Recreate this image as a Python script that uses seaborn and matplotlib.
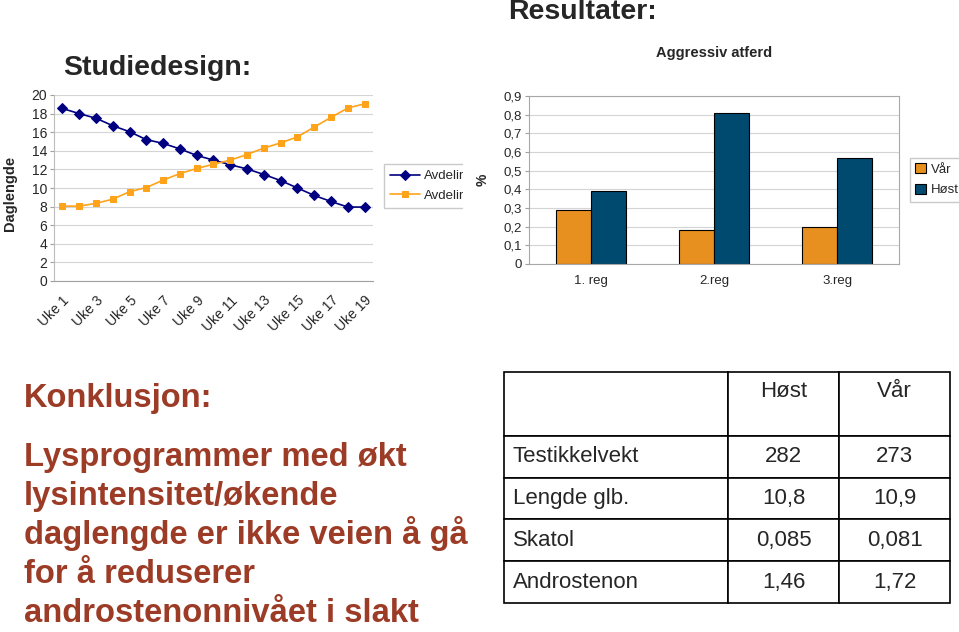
import pandas as pd
import matplotlib
matplotlib.use("Agg")
import matplotlib.pyplot as plt
import seaborn as sns
from matplotlib.ticker import FuncFormatter, FixedLocator
from matplotlib.transforms import Bbox, TransformedBbox, ScaledTranslation

# data
weeks = ["Uke %d" % i for i in range(1, 20)]
avd_blue = [18.55, 18.0, 17.5, 16.7, 16.05, 15.2, 14.8, 14.2, 13.5, 13.0,
            12.5, 12.05, 11.45, 10.8, 10.0, 9.2, 8.55, 7.95, 7.95]
avd_orange = [8.05, 8.05, 8.35, 8.8, 9.6, 10.05, 10.85, 11.55, 12.1, 12.55,
              13.0, 13.6, 14.3, 14.85, 15.5, 16.55, 17.6, 18.6, 19.05]
regs = ["1. reg", "2.reg", "3.reg"]
var_vals = [0.29, 0.18, 0.20]
host_vals = [0.39, 0.81, 0.57]
tab_rows = ["Testikkelvekt", "Lengde glb.", "Skatol", "Androstenon"]
tab_host = ["282", "10,8", "0,085", "1,46"]
tab_var = ["273", "10,9", "0,081", "1,72"]
conclusion = ["Lysprogrammer med økt", "lysintensitet/økende",
              "daglengde er ikke veien å gå", "for å reduserer",
              "androstenonnivået i slakt"]

sns.set_style("white")
plt.rcParams["font.family"] = ["Liberation Sans", "DejaVu Sans"]

W, H = 959, 632
fig = plt.figure(figsize=(W / 100, H / 100), dpi=100)


def rect(l, t, r, b):
    return [l / W, 1 - b / H, (r - l) / W, (b - t) / H]


def px(x, y):
    return x / W, 1 - y / H


# ---- line chart (Studiedesign)
ax1 = fig.add_axes(rect(54, 95, 373, 281))
pos = list(range(len(weeks)))
sns.lineplot(x=pos, y=avd_blue, ax=ax1, color="#000080", marker="D",
             markersize=5, markeredgecolor="#000080", linewidth=1.2, label="Avdelir")
sns.lineplot(x=pos, y=avd_orange, ax=ax1, color="#FFA31A", marker="s",
             markersize=5, markeredgecolor="#FFA31A", linewidth=1.2, label="Avdelir")
ax1.set_xlim(-0.5, len(weeks) - 0.5)
ax1.set_ylim(0, 20)
ax1.set_yticks(range(0, 21, 2))
ax1.yaxis.grid(True, color="#d4d4d4", linewidth=0.8)
ax1.set_xticks(pos[::2])
ax1.set_xticklabels(weeks[::2], rotation=45, ha="right", rotation_mode="anchor",
                    fontsize=10)
shift = ScaledTranslation(-6 / 100, 0, fig.dpi_scale_trans)
for t in ax1.get_xticklabels():
    t.set_transform(t.get_transform() + shift)
ax1.xaxis.set_minor_locator(FixedLocator([p - 0.5 for p in range(len(weeks) + 1)]))
ax1.tick_params(axis="x", which="major", length=0, pad=9)
ax1.tick_params(axis="x", which="minor", length=3, color="#a0a0a0", direction="out")
ax1.tick_params(axis="y", labelsize=10, length=3, color="#a0a0a0", left=True, pad=2)
for s in ["top", "right"]:
    ax1.spines[s].set_visible(False)
ax1.spines["left"].set_color("#bdbdbd")
ax1.spines["bottom"].set_color("#a0a0a0")
ax1.set_ylabel("Daglengde", fontsize=10.5, fontweight="bold")
ax1.yaxis.set_label_coords(-0.138, 0.47)
ax1.yaxis.label.set_va("center")
leg1 = ax1.legend(loc="upper left", bbox_to_anchor=px(384, 164), bbox_transform=fig.transFigure,
                  fontsize=9.5, frameon=True, fancybox=False, edgecolor="#bdbdbd",
                  handlelength=2.3, handletextpad=0.25, borderpad=0.45,
                  labelspacing=0.55, borderaxespad=0)
clip = TransformedBbox(Bbox([[0, 0], [463 / W, 1]]), fig.transFigure)
leg1.get_frame().set_clip_box(clip)
leg1.get_frame().set_clip_on(True)
for t in leg1.get_texts():
    t.set_clip_box(clip)
    t.set_clip_on(True)

# ---- bar chart (Aggressiv atferd)
ax2 = fig.add_axes(rect(529, 96, 899, 264))
bars = pd.DataFrame({
    "reg": regs * 2,
    "season": ["Vår"] * 3 + ["Høst"] * 3,
    "value": var_vals + host_vals,
})
sns.barplot(data=bars, x="reg", y="value", hue="season", hue_order=["Vår", "Høst"],
            palette={"Vår": "#E8901F", "Høst": "#004A70"}, width=0.57, saturation=1,
            edgecolor="black", linewidth=0.8, ax=ax2, legend=True)
ax2.set_ylim(0, 0.9)
ax2.set_yticks([i / 10 for i in range(10)])
ax2.yaxis.set_major_formatter(FuncFormatter(
    lambda v, p: "0" if abs(v) < 1e-9 else ("%.1f" % v).replace(".", ",")))
ax2.yaxis.grid(True, color="#d4d4d4", linewidth=0.8)
ax2.set_axisbelow(True)
ax2.xaxis.set_minor_locator(FixedLocator([-0.5, 0.5, 1.5, 2.5]))
ax2.tick_params(axis="x", which="major", length=0, labelsize=9.5, pad=8)
ax2.tick_params(axis="x", which="minor", length=3, color="#a0a0a0", direction="out")
ax2.tick_params(axis="y", labelsize=9.5, length=3, color="#a0a0a0", left=True, pad=2)
for s in ax2.spines.values():
    s.set_color("#a8a8a8")
    s.set_linewidth(0.8)
ax2.set_xlabel("")
ax2.set_ylabel("%", fontsize=10, fontweight="bold")
ax2.yaxis.set_label_coords(-0.125, 0.5)
ax2.yaxis.label.set_va("center")
ax2.set_title("Aggressiv atferd", fontsize=10.5, fontweight="bold", pad=28)
h, l = ax2.get_legend_handles_labels()
ax2.legend(h, l, loc="upper left", bbox_to_anchor=px(910, 158), bbox_transform=fig.transFigure,
           fontsize=9.5, frameon=True, fancybox=False, edgecolor="#bdbdbd",
           handlelength=0.8, handleheight=0.8, handletextpad=0.4, borderpad=0.4,
           labelspacing=0.6, borderaxespad=0)

# ---- table
ax3 = fig.add_axes(rect(504, 372, 950, 603))
ax3.axis("off")
cells = [[r, a, b] for r, a, b in zip(tab_rows, tab_host, tab_var)]
tbl = ax3.table(cellText=cells, colLabels=["", "Høst\n", "Vår\n"],
                colWidths=[224 / 446, 111 / 446, 111 / 446], bbox=[0, 0, 1, 1])
tbl.auto_set_font_size(False)
for (r, c), cell in tbl.get_celld().items():
    cell.set_linewidth(1.2)
    cell.set_edgecolor("black")
    cell.set_height(64 if r == 0 else 42)
    cell.get_text().set_fontsize(16)
    if c == 0:
        cell.get_text().set_ha("left")
        cell.PAD = 0.04
    else:
        cell.get_text().set_ha("center")

# ---- slide text
fig.text(*px(63, 75), "Studiedesign:", fontsize=20.5, fontweight="bold",
         va="baseline", ha="left")
fig.text(*px(508, 19), "Resultater:", fontsize=20.5, fontweight="bold",
         va="baseline", ha="left")
red = "#9C3B26"
fig.text(*px(24, 407), "Konklusjon:", fontsize=23.5, fontweight="bold", color=red,
         va="baseline", ha="left")
for i, line in enumerate(conclusion):
    fig.text(*px(24, 466 + 39 * i), line, fontsize=23.6, fontweight="bold", color=red,
             va="baseline", ha="left")

fig.savefig("out.png", dpi=100)
